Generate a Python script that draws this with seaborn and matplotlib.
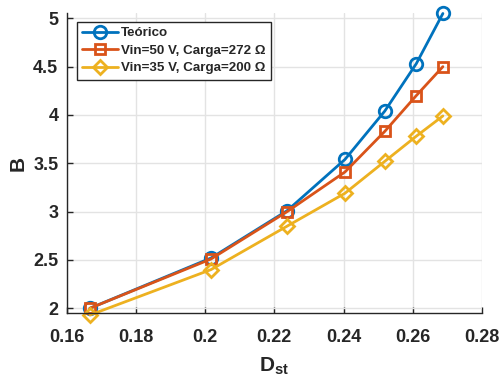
import matplotlib
matplotlib.use("Agg")
import matplotlib.pyplot as plt
import seaborn as sns
import pandas as pd

d_st = [0.1667, 0.2017, 0.2237, 0.2404, 0.2519, 0.2610, 0.2687]
teorico = [2.00, 2.52, 3.01, 3.54, 4.04, 4.53, 5.05]
vin50 = [2.00, 2.51, 3.00, 3.41, 3.83, 4.20, 4.50]
vin35 = [1.93, 2.40, 2.85, 3.19, 3.52, 3.78, 3.99]
labels = ["Teórico", "Vin=50 V, Carga=272 Ω", "Vin=35 V, Carga=200 Ω"]
xticks = [0.16, 0.18, 0.20, 0.22, 0.24, 0.26, 0.28]
xticklabels = ["0.16", "0.18", "0.2", "0.22", "0.24", "0.26", "0.28"]
yticks = [2, 2.5, 3, 3.5, 4, 4.5, 5]
yticklabels = ["2", "2.5", "3", "3.5", "4", "4.5", "5"]

sns.set_theme(style="white")
plt.rcParams['font.family'] = ['Liberation Sans', 'DejaVu Sans']
plt.rcParams['font.weight'] = 'bold'
plt.rcParams['mathtext.fontset'] = 'custom'
plt.rcParams['mathtext.bf'] = 'Liberation Sans:bold'
plt.rcParams['mathtext.rm'] = 'Liberation Sans:bold'

fig = plt.figure(figsize=(5.01, 3.81), dpi=100)
# axes spans x 66.7..482, y 13..313.3 px
ax = fig.add_axes([66.7 / 501, 1 - 313.3 / 381, (482 - 66.7) / 501, (313.3 - 13) / 381])

colors = ["#0072BD", "#D95319", "#EDB120"]
markers = ["o", "s", "D"]
msizes = [9, 7, 7.5]
for ys, lab, c, m, ms in zip([teorico, vin50, vin35], labels, colors, markers, msizes):
    df = pd.DataFrame({"x": d_st, "y": ys})
    sns.lineplot(data=df, x="x", y="y", ax=ax, color=c, marker=m, markersize=ms,
                 markerfacecolor="none", markeredgecolor=c, markeredgewidth=2,
                 linewidth=2, label=lab, clip_on=False)

ax.set_xlim(0.16, 0.28)
ax.set_ylim(1.948, 5.055)
ax.set_xticks(xticks)
ax.set_xticklabels(xticklabels)
ax.set_yticks(yticks)
ax.set_yticklabels(yticklabels)
ax.grid(True, color="#e3e3e3", linewidth=1)
ax.set_axisbelow(True)
for s in ["top", "right"]:
    ax.spines[s].set_visible(False)
for s in ["left", "bottom"]:
    ax.spines[s].set_color("#262626")
    ax.spines[s].set_linewidth(1)
ax.tick_params(axis="both", direction="in", length=4, width=1, colors="#262626",
               labelsize=13, labelcolor="#262626", left=True, bottom=True)
ax.tick_params(axis="x", pad=11)
ax.tick_params(axis="y", pad=6)
for t in ax.get_xticklabels() + ax.get_yticklabels():
    t.set_fontweight("bold")
ax.set_xlabel(r"$\mathbf{D}_{\mathbf{st}}$", fontsize=15, color="#262626", labelpad=7)
ax.set_ylabel("B", fontsize=15, fontweight="bold", color="#262626", labelpad=4)

leg = ax.legend(loc="upper left", bbox_to_anchor=(10 / 415.3, 1 - 8.7 / 300.3), fontsize=9.6,
                frameon=True, fancybox=False, edgecolor="#262626", framealpha=1,
                borderpad=0.4, labelspacing=0.38, handlelength=2.7, handletextpad=0.25,
                borderaxespad=0.0)
leg.get_frame().set_linewidth(1)
for t in leg.get_texts():
    t.set_fontweight("bold")

fig.savefig("out.png", dpi=100)
